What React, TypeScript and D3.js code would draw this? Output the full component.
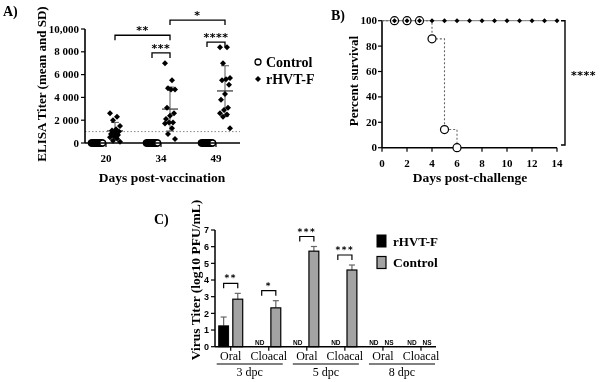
import React from "react";
import * as d3 from "d3";

// ---------- Panel A data ----------
const daysA = ["20", "34", "49"];
const rhvtDay20 = [2600, 2300, 2000, 1500, 1200, 1100, 1000, 900, 800, 700, 600, 500, 400, 200, 100];
const rhvtDay34 = [7000, 5500, 4800, 4700, 4700, 3100, 2600, 2400, 2100, 1800, 1800, 1700, 1300, 800, 350];
const rhvtDay49 = [8400, 8400, 7000, 5700, 5600, 5500, 5100, 4300, 3800, 3100, 2900, 2600, 2500, 2300, 1300];
const controlA = [0, 0, 0, 0, 0, 0, 0, 0, 0, 0, 0, 0, 0, 0, 0];
const yTicksA = [0, 2000, 4000, 6000, 8000, 10000];
const yTickLabelsA = ["0", "2 000", "4 000", "6 000", "8 000", "10,000"];
const thresholdA = 1000;
// brackets: [fromDay, fromSeries, toDay, toSeries, level, label]
const bracketsA: [string, string, string, string, number, string][] = [
  ["20", "r", "34", "r", 9450, "**"],
  ["34", "c", "34", "r", 7900, "***"],
  ["34", "r", "49", "r", 10780, "*"],
  ["49", "c", "49", "r", 8850, "****"],
];

// ---------- Panel B data ----------
const daysB = [0, 1, 2, 3, 4, 5, 6, 7, 8, 9, 10, 11, 12, 13, 14];
const survRhvt = [100, 100, 100, 100, 100, 100, 100, 100, 100, 100, 100, 100, 100, 100, 100];
const daysControlB = [0, 1, 2, 3, 4, 5, 6];
const survControl = [100, 100, 100, 100, 85.7, 14.3, 0];
const xTicksB = [0, 2, 4, 6, 8, 10, 12, 14];
const yTicksB = [0, 20, 40, 60, 80, 100];

// ---------- Panel C data ----------
const catsC = ["Oral", "Cloacal", "Oral", "Cloacal", "Oral", "Cloacal"];
const groupsC = ["3 dpc", "5 dpc", "8 dpc"];
const rhvtC = [1.25, null, null, null, null, null];
const rhvtSdC = [0.53, null, null, null, null, null];
const controlC = [2.85, 2.33, 5.73, 4.6, null, null];
const controlSdC = [0.35, 0.43, 0.28, 0.3, null, null];
const sigC = ["**", "*", "***", "***", "", ""];
const yTicksC = [0, 1, 2, 3, 4, 5, 6, 7];

const SERIF = "'Liberation Serif', 'Times New Roman', serif";
const SANS = "'Liberation Sans', Arial, sans-serif";
const STAR = "'DejaVu Sans', sans-serif";

function jitter(i: number) {
  return (((i * 7) % 11) - 5) * 1.0;
}

function Diamond({ x, y, s = 3 }: { x: number; y: number; s?: number }) {
  return <path d={`M${x},${y - s}L${x + s},${y}L${x},${y + s}L${x - s},${y}Z`} fill="#000" />;
}

function PanelA() {
  const x = d3.scalePoint<string>().domain(daysA).range([106, 216]);
  const y = d3.scaleLinear().domain([0, 10000]).range([143, 29]);
  const off = { c: -9, r: 9 } as Record<string, number>;
  const rh = [rhvtDay20, rhvtDay34, rhvtDay49];
  return (
    <g>
      <text x={3} y={16} fontFamily={SERIF} fontWeight="bold" fontSize={14} fill="#000">A)</text>
      <line x1={85} x2={240} y1={y(thresholdA)} y2={y(thresholdA)} stroke="#888" strokeWidth={1} strokeDasharray="1.5,2" />
      <line x1={85} x2={85} y1={y(10000)} y2={y(0)} stroke="#000" strokeWidth={1.6} />
      {yTicksA.map((t, i) => (
        <g key={t}>
          <line x1={81} x2={85} y1={y(t)} y2={y(t)} stroke="#000" strokeWidth={1.2} />
          <text x={79} y={y(t) + 3.5} textAnchor="end" fontFamily={SERIF} fontWeight="bold" fontSize={11} fill="#000">{yTickLabelsA[i]}</text>
        </g>
      ))}
      <line x1={85} x2={240} y1={y(0)} y2={y(0)} stroke="#000" strokeWidth={1.6} />
      {daysA.map((d) => (
        <g key={d}>
          <line x1={x(d)!} x2={x(d)!} y1={y(0)} y2={y(0) + 4} stroke="#000" strokeWidth={1.2} />
          <text x={x(d)!} y={162} textAnchor="middle" fontFamily={SERIF} fontWeight="bold" fontSize={11} fill="#000">{d}</text>
        </g>
      ))}
      {daysA.map((d) =>
        controlA.map((v, i) => (
          <circle key={d + "c" + i} cx={x(d)! + off.c + (i - 7) * 0.8} cy={y(v)} r={3} fill="#fff" stroke="#000" strokeWidth={1.4} />
        ))
      )}
      {daysA.map((d) => (
        <line key={d + "cm"} x1={x(d)! + off.c - 8} x2={x(d)! + off.c + 8} y1={y(0)} y2={y(0)} stroke="#000" strokeWidth={1.5} />
      ))}
      {daysA.map((d, gi) => {
        const vals = rh[gi];
        const m = d3.mean(vals)!;
        const sd = d3.deviation(vals)!;
        const cx = x(d)! + off.r;
        return (
          <g key={d + "r"}>
            <line x1={cx} x2={cx} y1={y(m - sd)} y2={y(m + sd)} stroke="#555" strokeWidth={1} />
            <line x1={cx - 4} x2={cx + 4} y1={y(m + sd)} y2={y(m + sd)} stroke="#555" strokeWidth={1} />
            <line x1={cx - 4} x2={cx + 4} y1={y(m - sd)} y2={y(m - sd)} stroke="#555" strokeWidth={1} />
            <line x1={cx - 8} x2={cx + 8} y1={y(m)} y2={y(m)} stroke="#333" strokeWidth={1.2} />
            {vals.map((v, i) => (
              <Diamond key={i} x={cx + jitter(i)} y={y(v)} s={3} />
            ))}
          </g>
        );
      })}
      {bracketsA.map(([d1, s1, d2, s2, lv, lab], i) => {
        const x1 = x(d1)! + off[s1];
        const x2 = x(d2)! + off[s2];
        const yy = y(lv);
        return (
          <g key={i}>
            <path d={`M${x1},${yy + 5}V${yy}H${x2}V${yy + 5}`} fill="none" stroke="#000" strokeWidth={1.3} />
            <text x={(x1 + x2) / 2} y={yy - 1} textAnchor="middle" fontFamily={STAR} fontWeight="bold" fontSize={11} fill="#000" letterSpacing={0.5}>{lab}</text>
          </g>
        );
      })}
      <text transform={`translate(46,84) rotate(-90)`} textAnchor="middle" fontFamily={SERIF} fontWeight="bold" fontSize={13} fill="#000">ELISA Titer (mean and SD)</text>
      <text x={162} y={182} textAnchor="middle" fontFamily={SERIF} fontWeight="bold" fontSize={13.5} fill="#000">Days post-vaccination</text>
      <circle cx={258} cy={62} r={3} fill="#fff" stroke="#000" strokeWidth={1.3} />
      <text x={266} y={67} fontFamily={SERIF} fontWeight="bold" fontSize={14} fill="#000">Control</text>
      <Diamond x={258} y={79} s={3} />
      <text x={266} y={84} fontFamily={SERIF} fontWeight="bold" fontSize={14} fill="#000">rHVT-F</text>
    </g>
  );
}

function PanelB() {
  const x = d3.scaleLinear().domain([0, 14]).range([382, 557]);
  const y = d3.scaleLinear().domain([0, 100]).range([147.7, 20.7]);
  const rLine = d3.line<number>().x((_, i) => x(daysB[i])).y((v) => y(v)).curve(d3.curveStepAfter);
  const cLine = d3.line<number>().x((_, i) => x(daysControlB[i])).y((v) => y(v)).curve(d3.curveStepAfter);
  return (
    <g>
      <text x={331} y={20} fontFamily={SERIF} fontWeight="bold" fontSize={14} fill="#000">B)</text>
      <line x1={382} x2={382} y1={y(100)} y2={y(0)} stroke="#000" strokeWidth={1.6} />
      {yTicksB.map((t) => (
        <g key={t}>
          <line x1={378} x2={382} y1={y(t)} y2={y(t)} stroke="#000" strokeWidth={1.2} />
          <text x={377} y={y(t) + 3.5} textAnchor="end" fontFamily={SERIF} fontWeight="bold" fontSize={11} fill="#000">{t}</text>
        </g>
      ))}
      <line x1={382} x2={557} y1={y(0)} y2={y(0)} stroke="#000" strokeWidth={1.6} />
      {xTicksB.map((t) => (
        <g key={t}>
          <line x1={x(t)} x2={x(t)} y1={y(0)} y2={y(0) + 4} stroke="#000" strokeWidth={1.2} />
          <text x={x(t)} y={167} textAnchor="middle" fontFamily={SERIF} fontWeight="bold" fontSize={11} fill="#000">{t}</text>
        </g>
      ))}
      <path d={rLine(survRhvt)!} fill="none" stroke="#777" strokeWidth={1} />
      <path d={cLine(survControl)!} fill="none" stroke="#666" strokeWidth={1.1} strokeDasharray="2,2" />
      {daysControlB.slice(1).map((d, i) => (
        <circle key={d} cx={x(d)} cy={y(survControl[i + 1])} r={4} fill="#fff" stroke="#000" strokeWidth={1.2} />
      ))}
      {daysB.slice(1).map((d, i) => (
        <Diamond key={d} x={x(d)} y={y(survRhvt[i + 1])} s={2.5} />
      ))}
      <path d={`M561,${y(100)}H565V145H561`} fill="none" stroke="#000" strokeWidth={1.4} />
      <text x={571} y={79} fontFamily={STAR} fontWeight="bold" fontSize={11} fill="#000" letterSpacing={0.5}>****</text>
      <text transform={`translate(358,81) rotate(-90)`} textAnchor="middle" fontFamily={SERIF} fontWeight="bold" fontSize={13} fill="#000">Percent survival</text>
      <text x={470} y={182} textAnchor="middle" fontFamily={SERIF} fontWeight="bold" fontSize={13.5} fill="#000">Days post-challenge</text>
    </g>
  );
}

function PanelC() {
  const idx = catsC.map((_, i) => String(i));
  const x = d3.scalePoint<string>().domain(idx).range([230.7, 421]);
  const inner = d3.scaleBand<string>().domain(["r", "c"]).range([-12, 12]).paddingInner(0.3);
  const y = d3.scaleLinear().domain([0, 7]).range([346.7, 230]);
  const bw = inner.bandwidth();
  return (
    <g>
      <text x={154} y={224} fontFamily={SERIF} fontWeight="bold" fontSize={14} fill="#000">C)</text>
      <line x1={215} x2={215} y1={y(7)} y2={y(0)} stroke="#000" strokeWidth={1.5} />
      {yTicksC.map((t) => (
        <g key={t}>
          <line x1={211} x2={215} y1={y(t)} y2={y(t)} stroke="#000" strokeWidth={1.2} />
          <text x={209} y={y(t) + 3.2} textAnchor="end" fontFamily={SANS} fontWeight="bold" fontSize={9} fill="#000">{t}</text>
        </g>
      ))}
      {idx.map((k, i) => {
        const c = x(k)!;
        const rv = rhvtC[i];
        const cv = controlC[i];
        const rx = c + inner("r")!;
        const gx = c + inner("c")!;
        return (
          <g key={k}>
            {rv != null && (
              <g>
                <line x1={rx + bw / 2} x2={rx + bw / 2} y1={y(rv)} y2={y(rv + rhvtSdC[i]!)} stroke="#666" strokeWidth={1.2} />
                <line x1={rx + bw / 2 - 3} x2={rx + bw / 2 + 3} y1={y(rv + rhvtSdC[i]!)} y2={y(rv + rhvtSdC[i]!)} stroke="#666" strokeWidth={1.2} />
                <rect x={rx} y={y(rv)} width={bw} height={y(0) - y(rv)} fill="#000" stroke="#000" strokeWidth={1} />
              </g>
            )}
            {rv == null && (
              <text x={rx + bw / 2 - 2} y={344.5} textAnchor="middle" fontFamily={SANS} fontWeight="bold" fontSize={6.5} fill="#000">ND</text>
            )}
            {cv != null && (
              <g>
                <line x1={gx + bw / 2} x2={gx + bw / 2} y1={y(cv)} y2={y(cv + controlSdC[i]!)} stroke="#666" strokeWidth={1.2} />
                <line x1={gx + bw / 2 - 3} x2={gx + bw / 2 + 3} y1={y(cv + controlSdC[i]!)} y2={y(cv + controlSdC[i]!)} stroke="#666" strokeWidth={1.2} />
                <rect x={gx} y={y(cv)} width={bw} height={y(0) - y(cv)} fill="#a3a3a3" stroke="#000" strokeWidth={1.2} />
              </g>
            )}
            {cv == null && (
              <text x={gx + bw / 2 - 1} y={344.5} textAnchor="middle" fontFamily={SANS} fontWeight="bold" fontSize={6.5} fill="#000">NS</text>
            )}
            {sigC[i] && cv != null && (() => {
              const top = y(cv + controlSdC[i]!) - 5;
              const x1 = rx + bw / 2;
              const x2 = gx + bw / 2;
              return (
                <g>
                  <path d={`M${x1},${top}V${top - 5}H${x2}V${top}`} fill="none" stroke="#000" strokeWidth={1.2} />
                  <text x={(x1 + x2) / 2} y={top - 7} textAnchor="middle" fontFamily={STAR} fontWeight="bold" fontSize={9} fill="#000" letterSpacing={1.5}>{sigC[i]}</text>
                </g>
              );
            })()}
            <line x1={c} x2={c} y1={y(0)} y2={y(0) + 4} stroke="#000" strokeWidth={1.2} />
            <text x={c} y={360} textAnchor="middle" fontFamily={SERIF} fontSize={12} fill="#000">{catsC[i]}</text>
          </g>
        );
      })}
      <line x1={215} x2={436} y1={y(0)} y2={y(0)} stroke="#000" strokeWidth={1.5} />
      {groupsC.map((g, gi) => {
        const a = x(String(gi * 2))! - 14;
        const b = x(String(gi * 2 + 1))! + 14;
        return (
          <g key={g}>
            <line x1={a} x2={b} y1={364} y2={364} stroke="#000" strokeWidth={1} />
            <text x={(a + b) / 2} y={376} textAnchor="middle" fontFamily={SERIF} fontSize={12} fill="#000">{g}</text>
          </g>
        );
      })}
      <text transform={`translate(200,280) rotate(-90)`} textAnchor="middle" fontFamily={SERIF} fontWeight="bold" fontSize={13.5} fill="#000">Virus Titer (log10 PFU/mL)</text>
      <rect x={377} y={235} width={9} height={12} fill="#000" stroke="#000" />
      <text x={393} y={245.5} fontFamily={SERIF} fontWeight="bold" fontSize={13} fill="#000">rHVT-F</text>
      <rect x={377} y={256.5} width={9} height={12} fill="#a3a3a3" stroke="#000" strokeWidth={1.2} />
      <text x={393} y={267} fontFamily={SERIF} fontWeight="bold" fontSize={13.5} fill="#000">Control</text>
    </g>
  );
}

export default function App() {
  return (
    <svg width={600} height={382} style={{ position: "absolute", left: 0, top: 0, background: "#fff" }}>
      <defs>
        <filter id="mono" x={0} y={0} width={600} height={382} filterUnits="userSpaceOnUse">
          <feColorMatrix type="saturate" values="0" />
        </filter>
      </defs>
      <rect width={600} height={382} fill="#fff" />
      <g filter="url(#mono)">
        <rect width={600} height={382} fill="#fff" />
        <PanelA />
        <PanelB />
        <PanelC />
      </g>
    </svg>
  );
}
